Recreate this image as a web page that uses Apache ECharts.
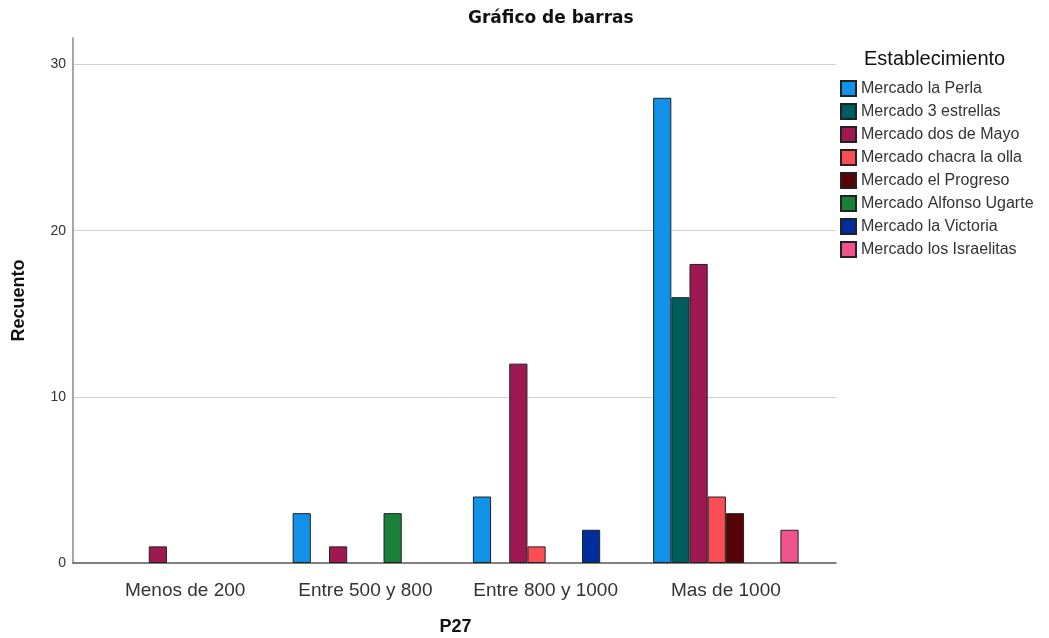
<!DOCTYPE html>
<html>
<head>
<meta charset="utf-8">
<title>Gráfico de barras</title>
<script src="https://cdn.jsdelivr.net/npm/echarts@6/dist/echarts.min.js"></script>
<style>
  html, body { margin: 0; padding: 0; background: #fff; }
  #chart { width: 1049px; height: 638px; }
</style>
</head>
<body>
<div id="chart"></div>
<script>
// categories on the x axis (P27)
const categories = ['Menos de 200', 'Entre 500 y 800', 'Entre 800 y 1000', 'Mas de 1000']

// counts per establecimiento (null = no bar)
const laPerla = [null, 3, 4, 28]
const tresEstrellas = [null, null, null, 16]
const dosDeMayo = [1, 1, 12, 18]
const chacraLaOlla = [null, null, 1, 4]
const elProgreso = [null, null, null, 3]
const alfonsoUgarte = [null, 3, null, null]
const laVictoria = [null, null, 2, null]
const losIsraelitas = [null, null, null, 2]

const seriesNames = [
  'Mercado la Perla',
  'Mercado 3 estrellas',
  'Mercado dos de Mayo',
  'Mercado chacra la olla',
  'Mercado el Progreso',
  'Mercado Alfonso Ugarte',
  'Mercado la Victoria',
  'Mercado los Israelitas'
]
const seriesData = [laPerla, tresEstrellas, dosDeMayo, chacraLaOlla, elProgreso, alfonsoUgarte, laVictoria, losIsraelitas]
const colors = ['#1192e8', '#005d5d', '#9f1853', '#fa4d56', '#570408', '#198038', '#002d9c', '#ee538b']

const yTicks = [0, 10, 20, 30]
const yMax = 31.6

const font = 'Liberation Sans, Arial, sans-serif'

const chart = echarts.init(document.getElementById('chart'))

const option = {
  backgroundColor: '#ffffff',
  color: colors,
  animation: false,
  textStyle: { fontFamily: font },
  title: [
    {
      text: 'Gráfico de barras',
      left: 468,
      top: 10,
      padding: 0,
      textStyle: { fontSize: 17, fontWeight: 'bold', color: '#111', fontFamily: 'DejaVu Sans, sans-serif' }
    },
    {
      text: 'Establecimiento',
      left: 864,
      top: 49,
      padding: 0,
      textStyle: { fontSize: 20, fontWeight: 'normal', color: '#111', fontFamily: font }
    }
  ],
  legend: {
    orient: 'vertical',
    left: 840,
    top: 80,
    padding: 0,
    itemWidth: 15,
    itemHeight: 15,
    itemGap: 6,
    icon: 'rect',
    textStyle: { fontSize: 16, lineHeight: 16, color: '#333' },
    data: seriesNames
  },
  grid: [
    // outer frame: axis lines + y labels + gridlines
    { left: 73, right: 1049 - 836, top: 38, bottom: 75, outerBoundsMode: 'none' },
    // inner area where the category groups sit
    { left: 95, right: 1049 - 816, top: 38, bottom: 75, outerBoundsMode: 'none' }
  ],
  xAxis: [
    {
      gridIndex: 0,
      type: 'value',
      min: 0,
      max: 1,
      axisLine: { show: true, lineStyle: { color: '#555', width: 1.5 } },
      axisTick: { show: false },
      axisLabel: { show: false },
      splitLine: { show: false }
    },
    {
      gridIndex: 1,
      type: 'category',
      data: categories,
      axisLine: { show: false },
      axisTick: { show: false },
      axisLabel: { interval: 0, fontSize: 19, color: '#333', margin: 18 },
      name: 'P27',
      nameLocation: 'middle',
      nameGap: 55,
      nameTextStyle: { fontSize: 18, fontWeight: 'bold', color: '#111' }
    }
  ],
  yAxis: [
    {
      gridIndex: 0,
      type: 'value',
      min: 0,
      max: yMax,
      interval: 10,
      axisLine: { show: true, lineStyle: { color: '#888', width: 1.5 } },
      axisTick: { show: false },
      axisLabel: {
        fontSize: 14,
        color: '#333',
        margin: 7,
        formatter: v => (yTicks.includes(v) ? String(v) : '')
      },
      splitLine: { show: true, showMinLine: false, showMaxLine: false, lineStyle: { color: '#cfcfcf', width: 1 } },
      name: 'Recuento',
      nameLocation: 'middle',
      nameGap: 45,
      nameTextStyle: { fontSize: 18, fontWeight: 'bold', color: '#111' }
    },
    {
      gridIndex: 1,
      type: 'value',
      min: 0,
      max: yMax,
      show: false
    }
  ],
  series: seriesNames.map((name, i) => ({
    name: name,
    type: 'bar',
    xAxisIndex: 1,
    yAxisIndex: 1,
    data: seriesData[i],
    barGap: '0%',
    barCategoryGap: '19.3%',
    itemStyle: {
      color: colors[i],
      borderColor: '#222',
      borderWidth: 1
    }
  }))
}

chart.setOption(option)
</script>
</body>
</html>
